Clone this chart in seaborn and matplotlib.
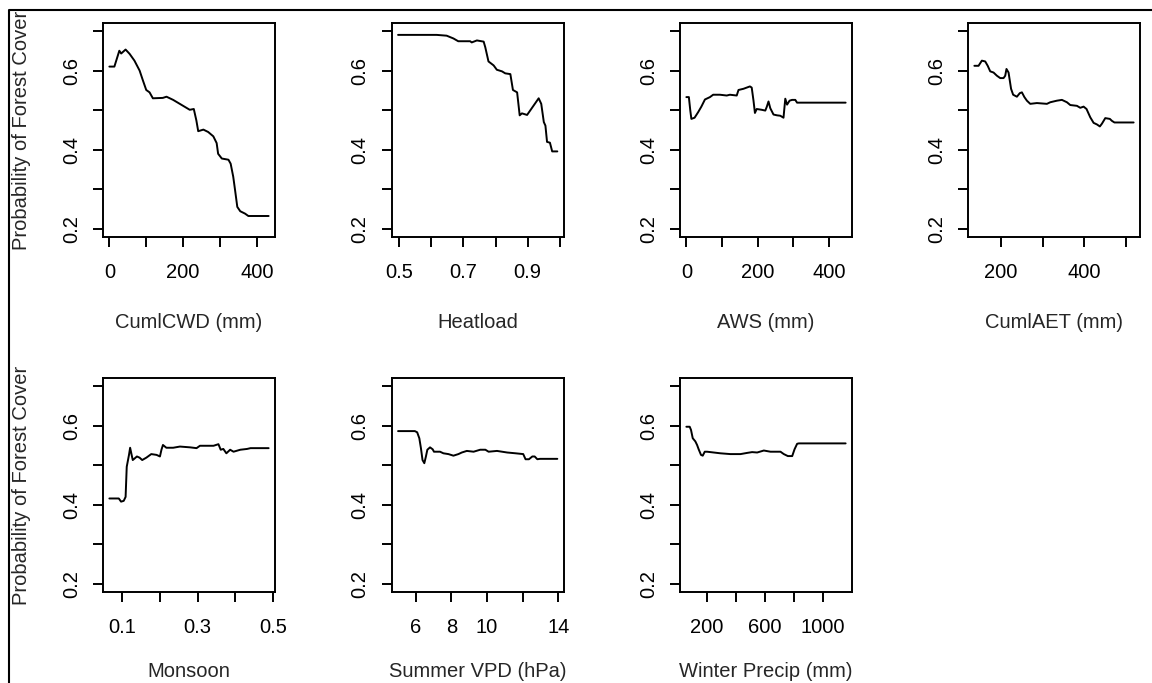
import numpy as np
import pandas as pd
import matplotlib
matplotlib.use("Agg")
import matplotlib.pyplot as plt
import seaborn as sns
from matplotlib.lines import Line2D

# ---------------- data ----------------
cwd_x = [0, 13.6, 27, 32, 44, 55, 68, 82, 91, 100, 109, 118, 145, 155, 173, 191, 209, 218, 229, 236,
         241, 255, 268, 282, 291, 295, 305, 323, 329, 336, 341, 347, 355, 368, 377, 432]
cwd_y = [0.61, 0.61, 0.65, 0.643, 0.653, 0.642, 0.625, 0.600, 0.575, 0.551, 0.545, 0.530, 0.531, 0.534,
         0.526, 0.516, 0.506, 0.501, 0.503, 0.474, 0.447, 0.451, 0.445, 0.434, 0.417, 0.390, 0.378,
         0.375, 0.365, 0.332, 0.298, 0.256, 0.245, 0.239, 0.233, 0.233]

heat_x = [0.497, 0.617, 0.648, 0.669, 0.684, 0.721, 0.726, 0.742, 0.763, 0.768, 0.778, 0.794, 0.804,
          0.820, 0.830, 0.846, 0.854, 0.867, 0.875, 0.882, 0.898, 0.934, 0.942, 0.950, 0.955, 0.960,
          0.969, 0.976, 0.992]
heat_y = [0.690, 0.690, 0.688, 0.681, 0.674, 0.674, 0.671, 0.676, 0.673, 0.659, 0.623, 0.613, 0.602,
          0.598, 0.593, 0.591, 0.551, 0.545, 0.487, 0.492, 0.488, 0.530, 0.516, 0.470, 0.461, 0.420,
          0.418, 0.396, 0.396]

aws_x = [0, 7, 11, 14, 23, 33, 42, 52, 66, 75, 94, 113, 122, 141, 146, 160, 178, 183, 188, 192, 197,
         211, 221, 225, 230, 235, 244, 254, 263, 272, 277, 282, 289, 296, 305, 310, 446]
aws_y = [0.533, 0.533, 0.499, 0.478, 0.481, 0.495, 0.509, 0.527, 0.533, 0.539, 0.539, 0.537, 0.539,
         0.537, 0.551, 0.554, 0.560, 0.557, 0.524, 0.493, 0.503, 0.501, 0.499, 0.508, 0.522, 0.505,
         0.489, 0.487, 0.486, 0.481, 0.529, 0.514, 0.524, 0.526, 0.526, 0.519, 0.519]

aet_x = [136, 146, 154, 162, 168, 174, 182, 190, 198, 206, 210, 213, 218, 224, 229, 238, 245, 250, 256,
         262, 270, 286, 310, 318, 334, 346, 358, 366, 382, 390, 398, 405, 414, 422, 430, 437, 442, 450,
         461, 466, 472, 518]
aet_y = [0.612, 0.612, 0.625, 0.623, 0.612, 0.598, 0.595, 0.587, 0.581, 0.581, 0.587, 0.604, 0.595,
         0.554, 0.539, 0.534, 0.543, 0.545, 0.533, 0.524, 0.516, 0.518, 0.516, 0.520, 0.524, 0.526,
         0.520, 0.513, 0.511, 0.506, 0.509, 0.503, 0.482, 0.468, 0.464, 0.459, 0.466, 0.480, 0.478,
         0.473, 0.469, 0.469]

mon_x = [0.066, 0.091, 0.097, 0.104, 0.109, 0.112, 0.118, 0.121, 0.125, 0.128, 0.133, 0.139, 0.146,
         0.153, 0.164, 0.177, 0.191, 0.200, 0.204, 0.208, 0.217, 0.235, 0.253, 0.280, 0.297, 0.306,
         0.324, 0.342, 0.355, 0.361, 0.368, 0.376, 0.386, 0.395, 0.413, 0.431, 0.440, 0.488]
mon_y = [0.416, 0.416, 0.408, 0.410, 0.420, 0.496, 0.526, 0.544, 0.526, 0.513, 0.517, 0.522, 0.519,
         0.513, 0.519, 0.528, 0.526, 0.522, 0.539, 0.551, 0.544, 0.544, 0.547, 0.545, 0.543, 0.549,
         0.549, 0.549, 0.553, 0.539, 0.541, 0.530, 0.539, 0.534, 0.539, 0.541, 0.543, 0.543]

vpd_x = [5.02, 5.96, 6.09, 6.21, 6.30, 6.39, 6.49, 6.58, 6.66, 6.81, 6.96, 7.03, 7.37, 7.56, 7.84,
         8.12, 8.40, 8.59, 8.87, 9.25, 9.62, 9.91, 10.09, 10.56, 11.13, 11.60, 12.03, 12.16, 12.35,
         12.54, 12.67, 12.82, 12.97, 13.94]
vpd_y = [0.586, 0.586, 0.583, 0.568, 0.543, 0.513, 0.505, 0.522, 0.539, 0.545, 0.540, 0.534, 0.534,
         0.530, 0.528, 0.524, 0.528, 0.532, 0.536, 0.534, 0.539, 0.539, 0.534, 0.536, 0.532, 0.530,
         0.528, 0.515, 0.515, 0.522, 0.522, 0.515, 0.516, 0.516]

wp_x = [57, 80, 89, 101, 119, 131, 142, 158, 170, 184, 200, 246, 292, 361, 431, 477, 511, 546, 592,
        638, 707, 730, 758, 788, 804, 822, 834, 1157]
wp_y = [0.597, 0.597, 0.589, 0.568, 0.560, 0.551, 0.540, 0.526, 0.524, 0.534, 0.534, 0.532, 0.530,
        0.528, 0.528, 0.531, 0.533, 0.532, 0.537, 0.534, 0.534, 0.528, 0.523, 0.523, 0.540, 0.554,
        0.555, 0.555]

x_labels = ["CumlCWD (mm)", "Heatload", "AWS (mm)", "CumlAET (mm)",
            "Monsoon", "Summer VPD (hPa)", "Winter Precip (mm)"]
x_ticks = [[0, 100, 200, 300, 400], [0.5, 0.6, 0.7, 0.8, 0.9, 1.0], [0, 100, 200, 300, 400],
           [200, 300, 400, 500], [0.1, 0.2, 0.3, 0.4, 0.5], [6, 8, 10, 12, 14],
           [200, 400, 600, 800, 1000]]
x_ticklabels = [["0", "", "200", "", "400"], ["0.5", "", "0.7", "", "0.9", ""],
                ["0", "", "200", "", "400"], ["200", "", "400", ""], ["0.1", "", "0.3", "", "0.5"],
                ["6", "8", "10", "", "14"], ["200", "", "600", "", "1000"]]
y_ticks = [0.2, 0.3, 0.4, 0.5, 0.6, 0.7]
y_ticklabels = ["0.2", "", "0.4", "", "0.6", ""]
y_label = "Probability of Forest Cover"

series = [(cwd_x, cwd_y), (heat_x, heat_y), (aws_x, aws_y), (aet_x, aet_y),
          (mon_x, mon_y), (vpd_x, vpd_y), (wp_x, wp_y)]

# ---------------- style ----------------
sns.set_theme(style="ticks")
plt.rcParams["font.family"] = ["Liberation Sans", "DejaVu Sans"]
plt.rcParams["font.size"] = 14.5

W, H = 1152, 683
fig = plt.figure(figsize=(W / 100, H / 100), dpi=100)
fig.patch.set_facecolor("white")

lefts = [103, 391.7, 680, 968]
tops = [23, 378]
aw, ah = 172, 214
xlabel_y = [-0.355, -0.325]

for i, (xs, ys) in enumerate(series):
    r, c = divmod(i, 4)
    l = lefts[c]
    t = tops[r]
    ax = fig.add_axes([l / W, 1 - (t + ah) / H, aw / W, ah / H])
    df = pd.DataFrame({"x": xs, "y": ys})
    sns.lineplot(data=df, x="x", y="y", ax=ax, color="black", linewidth=1.4,
                 estimator=None, sort=False)
    ax.margins(x=0.04)
    ax.set_ylim(0.18, 0.72)
    ax.set_xticks(x_ticks[i])
    ax.set_xticklabels(x_ticklabels[i])
    ax.set_yticks(y_ticks)
    ax.set_yticklabels(y_ticklabels)
    ax.tick_params(axis="both", length=7, width=1.4, color="black", labelsize=14.5,
                   labelcolor="black")
    ax.tick_params(axis="x", pad=12)
    ax.tick_params(axis="y", pad=9, labelrotation=90)
    for lab in ax.get_yticklabels():
        lab.set_va("center")
    for sp in ax.spines.values():
        sp.set_visible(True)
        sp.set_linewidth(1.4)
        sp.set_color("black")
    ax.set_xlabel(x_labels[i], fontsize=14.5)
    ax.xaxis.set_label_coords(0.5, xlabel_y[r])
    if c == 0:
        ax.set_ylabel(y_label, fontsize=14.5)
        ax.yaxis.set_label_coords(-0.42, 0.5)
    else:
        ax.set_ylabel("")

# outer frame (top and left edges visible)
fig.add_artist(Line2D([9 / W, 9 / W, 1.0], [0.0, 1 - 10 / H, 1 - 10 / H],
                      transform=fig.transFigure, color="black", linewidth=1.5))

fig.savefig("out.png", dpi=100, facecolor="white")
